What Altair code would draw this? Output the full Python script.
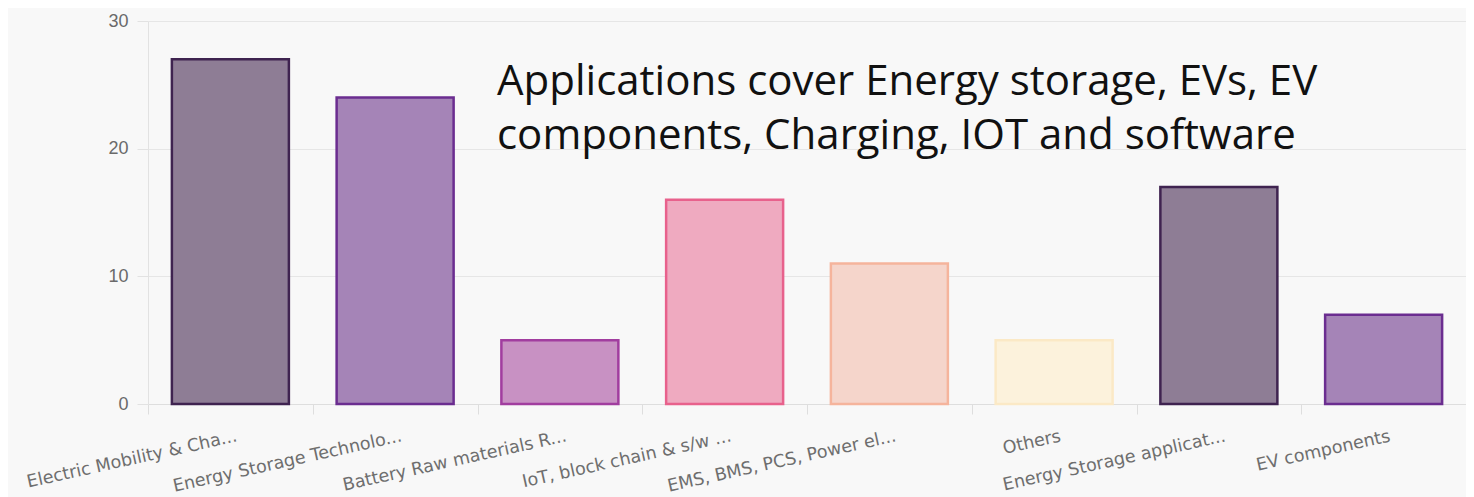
import altair as alt
import pandas as pd

categories = [
    "Electric Mobility & Cha...",
    "Energy Storage Technolo...",
    "Battery Raw materials R...",
    "IoT, block chain & s/w ...",
    "EMS, BMS, PCS, Power el...",
    "Others",
    "Energy Storage applicat...",
    "EV components",
]
values = [27, 24, 5, 16, 11, 5, 17, 7]

fill_colors = ["#8e7d95", "#a584b7", "#c891c3", "#efaac0", "#f5d5cb",
               "#fcf2dc", "#8e7d95", "#a584b7"]
stroke_colors = ["#3f2350", "#6b2d90", "#a13d9f", "#e8618c", "#f5b49c",
                 "#fbe9c6", "#3f2350", "#6b2d90"]

annotation_lines = [
    "Applications cover Energy storage, EVs, EV",
    "components, Charging, IOT and software",
]

df = pd.DataFrame({"category": categories, "value": values})

W = 1318
H = 383

x = alt.X(
    "category:N",
    sort=categories,
    title=None,
    scale=alt.Scale(paddingInner=0, paddingOuter=0),
    axis=alt.Axis(
        labelAngle=-12.5,
        labelAlign="right",
        labelBaseline="top",
        labelFont="DejaVu Sans",
        labelFontSize=17.5,
        labelColor="#6e6e6e",
        labelPadding=13,
        labelOffset=4,
        labelOverlap=False,
        labelLimit=0,
        labelBound=False,
        tickBand="extent",
        tickSize=10,
        tickColor="#dedede",
        domainColor="#dedede",
        grid=False,
    ),
)

y = alt.Y(
    "value:Q",
    title=None,
    scale=alt.Scale(domain=[0, 30], nice=False),
    axis=alt.Axis(
        values=[0, 10, 20, 30],
        labelFont="Liberation Sans",
        labelFontSize=18,
        labelColor="#6a6a6a",
        labelPadding=9,
        tickSize=11,
        tickColor="#e2e2e2",
        domainColor="#e2e2e2",
        gridColor="#e6e6e6",
    ),
)

bars = alt.Chart(df).mark_bar(size=117, strokeWidth=2.5).encode(
    x=x,
    y=y,
    fill=alt.Fill("category:N", sort=categories,
                  scale=alt.Scale(domain=categories, range=fill_colors), legend=None),
    stroke=alt.Stroke("category:N", sort=categories,
                      scale=alt.Scale(domain=categories, range=stroke_colors), legend=None),
)

note = alt.Chart(pd.DataFrame({"t": [0]})).mark_text(
    align="left",
    baseline="alphabetic",
    font="Open Sans",
    fontSize=42,
    lineHeight=54,
    color="#111111",
).encode(
    x=alt.value(349),
    y=alt.value(74),
    text=alt.value(annotation_lines),
)

chart = alt.layer(bars, note).properties(
    width=W,
    height=H,
    background="#f8f8f8",
    autosize=alt.AutoSizeParams(type="none"),
    padding={"left": 140, "top": 13, "right": 0, "bottom": 93},
).configure_view(stroke=None)

chart.save("out.html", embed_options={"renderer": "svg", "actions": False})
